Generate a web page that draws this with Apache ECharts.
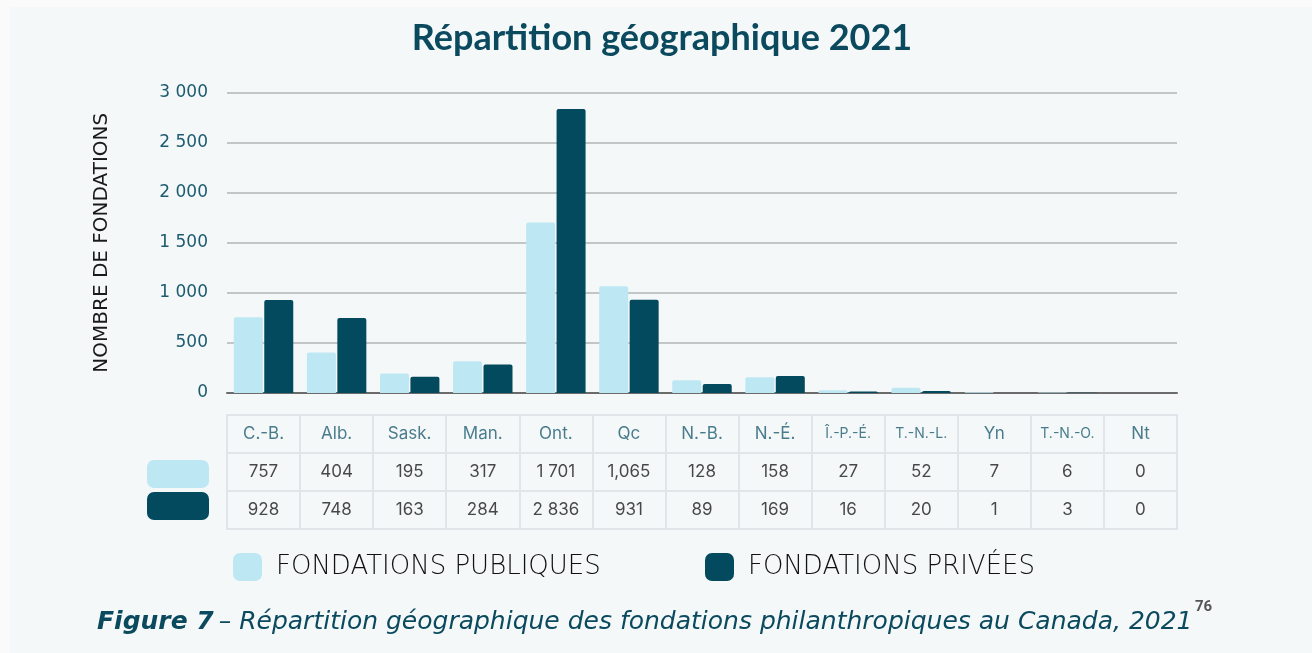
<!DOCTYPE html>
<html>
<head>
    <meta http-equiv="Content-Type" content="text/html; charset=UTF-8">
    <title>Répartition géographique 2021</title>
    <script type="text/javascript" src="https://cdn.jsdelivr.net/npm/echarts@6/dist/echarts.min.js"></script>
    <style>
        html, body { margin: 0; padding: 0; background: #fafafa; }
        #view { position: absolute; left: 10px; top: 7px; width: 1302px; height: 646px; background: #f4f8f8; }
    </style>
</head>
<body>
<div id="view"></div>
</body>
<script type="text/javascript">

    // provinces / territoires
    var categories = ['C.-B.', 'Alb.', 'Sask.', 'Man.', 'Ont.', 'Qc', 'N.-B.', 'N.-É.', 'Î.-P.-É.', 'T.-N.-L.', 'Yn', 'T.-N.-O.', 'Nt'];
    var publiques = [757, 404, 195, 317, 1701, 1065, 128, 158, 27, 52, 7, 6, 0];
    var privees = [928, 748, 163, 284, 2836, 931, 89, 169, 16, 20, 1, 3, 0];
    // textes du tableau, tels qu'imprimés
    var publiquesText = ['757', '404', '195', '317', '1 701', '1,065', '128', '158', '27', '52', '7', '6', '0'];
    var priveesText = ['928', '748', '163', '284', '2 836', '931', '89', '169', '16', '20', '1', '3', '0'];
    var yTicks = [0, 500, 1000, 1500, 2000, 2500, 3000];

    var NAME_PUB = 'FONDATIONS PUBLIQUES';
    var NAME_PRIV = 'FONDATIONS PRIVÉES';
    var COL_PUB = '#bee7f4';
    var COL_PRIV = '#034a5e';
    var TEAL = '#1d5b70';
    var LINE = '#e0e5ea';

    // le div est décalé de (10,7) : on retire ce décalage des positions
    var OX = 10, OY = 7;

    var myChart = echarts.init(document.getElementById('view'));

    function fmtThousands(v) {
        return String(v).replace(/\B(?=(\d{3})+(?!\d))/g, ' ');
    }

    function tableRow(gridIndex, texts, isHeader) {
        return {
            type: 'scatter',
            xAxisIndex: gridIndex,
            yAxisIndex: gridIndex,
            silent: true,
            symbolSize: 1,
            itemStyle: { color: 'transparent' },
            data: categories.map(function (c, i) {
                var item = { value: [c, 0.5] };
                if (isHeader && c.length > 6) {
                    item.label = { fontSize: 14 };
                }
                return item;
            }),
            label: {
                show: true,
                position: 'inside',
                fontFamily: 'Inter',
                fontSize: 17,
                color: isHeader ? TEAL : '#1a1a1a',
                formatter: function (p) { return texts[p.dataIndex]; }
            }
        };
    }

    var gridLeft = 227 - OX, gridRight = 1312 - 1177;
    var rowTops = [415, 453, 491];

    var grids = [{ left: gridLeft, right: gridRight, top: 92.5 - OY, bottom: 653 - 393 }];
    var xAxes = [{
        type: 'category',
        data: categories,
        gridIndex: 0,
        axisLine: { lineStyle: { color: '#6b6b6b', width: 2 } },
        axisTick: { show: false },
        axisLabel: { show: false }
    }];
    var yAxes = [{
        type: 'value',
        gridIndex: 0,
        min: yTicks[0],
        max: yTicks[yTicks.length - 1],
        interval: yTicks[1] - yTicks[0],
        name: 'NOMBRE DE FONDATIONS',
        nameLocation: 'middle',
        nameRotate: 90,
        nameGap: 115,
        nameTextStyle: { color: '#1a1a1a', fontSize: 20, fontFamily: 'DejaVu Sans', fontWeight: 'normal' },
        axisLine: { show: false },
        axisTick: { show: false },
        axisLabel: {
            color: TEAL,
            fontSize: 17,
            fontFamily: 'DejaVu Sans',
            margin: 19,
            formatter: fmtThousands
        },
        splitLine: { lineStyle: { color: '#c3c6c6', width: 2 } }
    }];

    rowTops.forEach(function (t, k) {
        var gi = k + 1;
        grids.push({ left: gridLeft, right: gridRight, top: t - OY, height: 38, show: true, borderColor: LINE, borderWidth: 2, backgroundColor: 'transparent' });
        xAxes.push({
            type: 'category',
            data: categories,
            gridIndex: gi,
            axisLine: { show: false },
            axisTick: { show: false },
            axisLabel: { show: false },
            splitLine: { show: true, interval: 0, lineStyle: { color: LINE, width: 2 } }
        });
        yAxes.push({ type: 'value', gridIndex: gi, min: 0, max: 1, show: false });
    });

    var legendText = { color: '#111', fontSize: 26, fontFamily: 'DejaVu Sans', fontWeight: 200, padding: [0, 0, 0, 9] };

    var option = {
        backgroundColor: 'transparent',
        animation: false,
        title: [{
            text: 'Répartition géographique 2021',
            left: 662 - OX,
            top: 20 - OY,
            padding: 0,
            textAlign: 'center',
            textStyle: { color: '#0b4a5e', fontSize: 36, fontWeight: 'bold', fontFamily: 'Lato' }
        }, {
            text: '{b|Figure 7} {i|– Répartition géographique des fondations philanthropiques au Canada, 2021}',
            left: 97 - OX,
            top: 610 - OY,
            padding: 0,
            textStyle: {
                rich: {
                    b: { color: '#0b4a5e', fontSize: 25, fontStyle: 'italic', fontWeight: 'bold', fontFamily: 'DejaVu Sans' },
                    i: { color: '#0b4a5e', fontSize: 25, fontStyle: 'italic', fontWeight: 'normal', fontFamily: 'DejaVu Sans' }
                }
            }
        }, {
            text: '76',
            left: 1195 - OX,
            top: 600 - OY,
            padding: 0,
            textStyle: { color: '#555', fontSize: 15, fontWeight: 'bold', fontFamily: 'Roboto' }
        }],
        legend: [{
            orient: 'vertical',
            left: 147 - OX,
            top: 460 - OY,
            padding: 0,
            itemWidth: 62,
            itemHeight: 28,
            itemGap: 4,
            icon: 'roundRect',
            selectedMode: false,
            data: [NAME_PUB, NAME_PRIV],
            formatter: function () { return ''; }
        }, {
            left: 233 - OX,
            top: 553 - OY,
            padding: 0,
            itemWidth: 29,
            itemHeight: 28,
            icon: 'roundRect',
            selectedMode: false,
            data: [NAME_PUB],
            textStyle: legendText
        }, {
            left: 705 - OX,
            top: 553 - OY,
            padding: 0,
            itemWidth: 29,
            itemHeight: 28,
            icon: 'roundRect',
            selectedMode: false,
            data: [NAME_PRIV],
            textStyle: legendText
        }],
        grid: grids,
        xAxis: xAxes,
        yAxis: yAxes,
        series: [{
            name: NAME_PUB,
            type: 'bar',
            data: publiques,
            barWidth: 29,
            barGap: '5%',
            itemStyle: { color: COL_PUB, borderRadius: [2, 2, 0, 0] }
        }, {
            name: NAME_PRIV,
            type: 'bar',
            data: privees,
            barWidth: 29,
            barGap: '5%',
            itemStyle: { color: COL_PRIV, borderRadius: [2, 2, 0, 0] }
        },
            tableRow(1, categories, true),
            tableRow(2, publiquesText, false),
            tableRow(3, priveesText, false)
        ]
    };
    myChart.setOption(option);
</script>
</html>
